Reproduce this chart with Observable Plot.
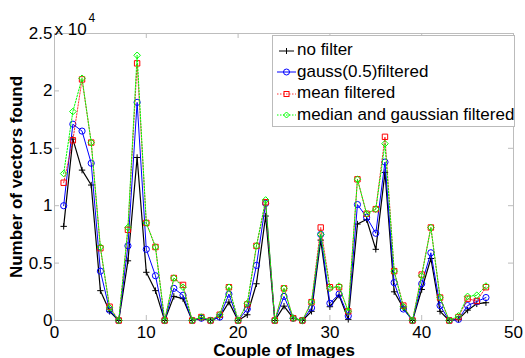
<!DOCTYPE html>
<html><head><meta charset="utf-8">
<script src="https://cdn.jsdelivr.net/npm/d3@7"></script>
<script src="https://cdn.jsdelivr.net/npm/@observablehq/plot@0.6"></script>
<style>
body{margin:0;background:#fff;font-family:"Liberation Sans",Arial,sans-serif}
#wrap{position:relative;width:525px;height:358px;overflow:hidden}
#legend{position:absolute;left:272px;top:35px;width:243px;height:92px;border:1px solid #bbb;background:#fff;box-sizing:border-box;font-size:17px;color:#000}
#legend .row{position:absolute;left:2px;height:20px;line-height:20px;white-space:nowrap}
#legend svg{vertical-align:middle;margin-right:1px}
</style></head><body><div id="wrap"></div>
<script>
// Couple of images index
const couples = [1,2,3,4,5,6,7,8,9,10,11,12,13,14,15,16,17,18,19,20,21,22,23,24,25,26,27,28,29,30,31,32,33,34,35,36,37,38,39,40,41,42,43,44,45,46,47];
// Number of vectors found per series
const noFilter = [8200,15800,13100,11800,2600,800,0,5200,14200,4200,2600,0,2100,1900,0,200,0,300,1600,0,500,3200,9100,0,1250,200,0,800,7000,1200,2200,100,8400,8800,6200,12900,2500,1100,0,2700,5400,800,0,100,900,1450,1550];
const gauss = [10000,17100,16500,13700,4300,900,0,6500,19000,6200,3900,0,2800,2200,0,200,0,300,2300,0,1000,4800,10200,0,2100,200,0,1100,7500,1500,2300,400,10100,9000,7600,13800,3300,1000,0,3200,5900,1300,0,100,1300,1650,2000];
const meanF = [12000,15700,21000,15500,6300,1200,0,7900,22400,8500,6400,0,3700,3100,0,300,0,500,2900,0,1400,6500,10300,0,2800,200,0,1600,8100,2900,2900,800,12300,9300,9700,16000,4300,1300,0,4000,8100,2000,0,300,1900,1700,2900];
const medianGauss = [12800,18200,21100,15500,6400,1100,0,8100,23100,8500,6400,0,3700,2900,0,300,0,500,2900,0,1500,6500,10500,0,2800,200,0,1600,7500,2800,3000,800,12300,9300,9700,15400,4300,1200,0,3900,8100,2000,0,400,2100,2200,3000];
const seriesNames = ["no filter","gauss(0.5)filtered","mean filtered","median and gaussian filtered"];
const seriesColors = ["#000000","#0000ff","#ff0000","#00ff00"];
const xTicks = [0,10,20,30,40,50];
const yTicks = [0,5000,10000,15000,20000,25000];

const allSeries = [noFilter, gauss, meanF, medianGauss];
const rows = [];
allSeries.forEach((vals, s) => vals.forEach((v, i) => rows.push({x: couples[i], y: v, s: seriesNames[s]})));

function rad(size){ return Math.sqrt(size/Math.PI); }
const plusSym = {draw(c, size){ const r = rad(size); c.moveTo(-r,0); c.lineTo(r,0); c.moveTo(0,-r); c.lineTo(0,r); }};
const squareSym = {draw(c, size){ const r = rad(size); c.moveTo(-r,-r); c.lineTo(r,-r); c.lineTo(r,r); c.lineTo(-r,r); c.closePath(); }};
const diamondSym = {draw(c, size){ const r = rad(size); c.moveTo(0,-r); c.lineTo(r,0); c.lineTo(0,r); c.lineTo(-r,0); c.closePath(); }};
const circleSym = {draw(c, size){ const r = rad(size); c.moveTo(r,0); c.arc(0,0,r,0,2*Math.PI); }};
const symbols = [plusSym, circleSym, squareSym, diamondSym];
const dashes = [null, null, "1.5,1.5", "1.5,1.5"];
const widths = [1.2, 1, 0.8, 1];
const radii = [3.2, 3.1, 2.7, 3.3];

const W = 525, H = 358, ML = 54, MR = 12, MT = 33, MB = 38;
const pw = W - ML - MR, ph = H - MT - MB;
const grey = "#bdbdbd";

const marks = [
  Plot.frame({stroke: grey}),
  Plot.tickX(xTicks.slice(1,-1), {x: d => d, insetTop: ph - 5, stroke: grey}),
  Plot.tickX(xTicks.slice(1,-1), {x: d => d, insetBottom: ph - 5, stroke: grey}),
  Plot.tickY(yTicks.slice(1,-1), {y: d => d, insetRight: pw - 5, stroke: grey}),
  Plot.tickY(yTicks.slice(1,-1), {y: d => d, insetLeft: pw - 5, stroke: grey}),
  Plot.axisX({ticks: xTicks, tickSize: 0, tickPadding: 5, label: null, fontSize: 17}),
  Plot.axisY({ticks: yTicks, tickSize: 0, tickPadding: 2, tickFormat: d => String(d/1e4), label: null, fontSize: 17}),
  Plot.text(["Number of vectors found"], {frameAnchor: "left", text: d => d, textAnchor: "middle", rotate: -90, dx: -38, dy: 0, fontWeight: "bold", fontSize: 17}),
  Plot.text(["Couple of Images"], {frameAnchor: "bottom", text: d => d, dy: 35, fontWeight: "bold", fontSize: 17}),
  Plot.text(["x 10"], {frameAnchor: "top-left", text: d => d, textAnchor: "start", dx: 0, dy: -11, fontSize: 17}),
  Plot.text(["4"], {frameAnchor: "top-left", text: d => d, textAnchor: "start", dx: 34, dy: -20, fontSize: 12})
];
seriesNames.forEach((name, s) => {
  const data = rows.filter(r => r.s === name);
  marks.push(Plot.line(data, {x: "x", y: "y", stroke: seriesColors[s], strokeWidth: widths[s], strokeDasharray: dashes[s]}));
  marks.push(Plot.dot(data, {x: "x", y: "y", stroke: seriesColors[s], fill: "none", symbol: symbols[s], r: radii[s], strokeWidth: 1}));
});

const chart = Plot.plot({
  width: W, height: H,
  marginLeft: ML, marginRight: MR, marginTop: MT, marginBottom: MB,
  x: {domain: [0, 50]},
  y: {domain: [0, 25000]},
  style: {fontFamily: "'Liberation Sans', Arial, sans-serif", fontSize: "17px", color: "#000", background: "#fff", overflow: "visible"},
  marks
});
const wrap = document.getElementById("wrap");
wrap.appendChild(chart);

// legend
const leg = document.createElement("div");
leg.id = "legend";
const symPaths = [
  '<path d="M4 10H19M11.5 7V13" stroke="#000" stroke-width="1" fill="none"/>',
  '<path d="M2 10H21" stroke="#0000ff" stroke-width="1"/><circle cx="11.5" cy="10" r="3" stroke="#0000ff" fill="none"/>',
  '<path d="M2 10H21" stroke="#ff0000" stroke-width="0.8" stroke-dasharray="1.5,1.5"/><rect x="9" y="7.5" width="5" height="5" stroke="#ff0000" fill="none"/>',
  '<path d="M2 10H21" stroke="#00ff00" stroke-width="1" stroke-dasharray="1.5,1.5"/><path d="M11.5 7L14.5 10L11.5 13L8.5 10Z" stroke="#00ff00" fill="none"/>'
];
seriesNames.forEach((name, s) => {
  const r = document.createElement("div");
  r.className = "row";
  r.style.top = (4 + s * 21.5) + "px";
  r.innerHTML = `<svg width="21" height="20">${symPaths[s]}</svg>${name}`;
  leg.appendChild(r);
});
wrap.appendChild(leg);
</script>
</body></html>
